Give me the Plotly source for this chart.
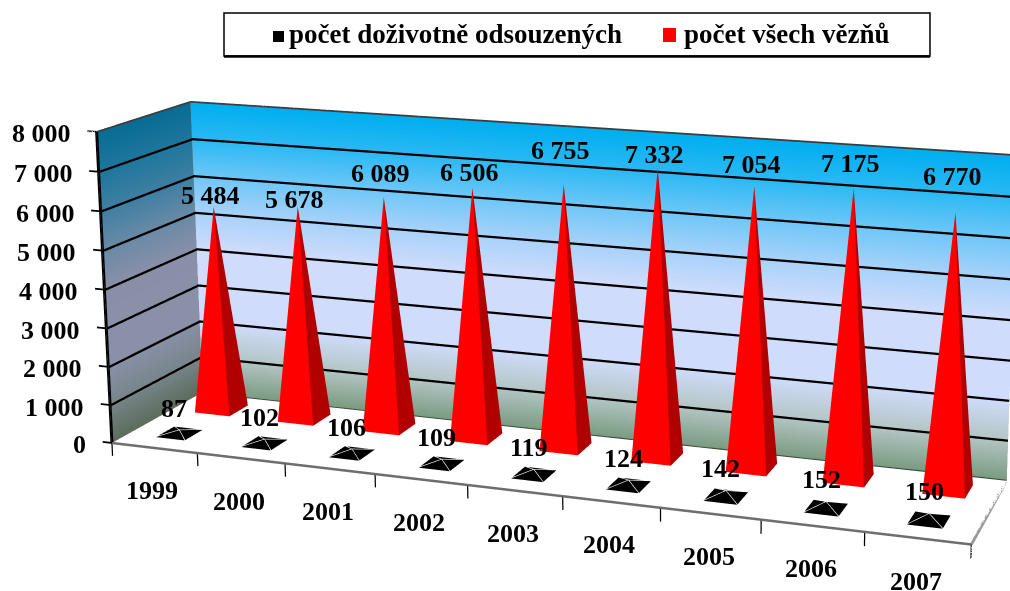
import numpy as np
import plotly.graph_objects as go

years = ["1999","2000","2001","2002","2003","2004","2005","2006","2007"]
life_sentenced = [87,102,106,109,119,124,142,152,150]
all_prisoners = [5484,5678,6089,6506,6755,7332,7054,7175,6770]
z_ticks = [0,1000,2000,3000,4000,5000,6000,7000,8000]
# label placement, kept apart from the values: pixels above the apex of each red pyramid
red_label_lift = [11,7,24,15,34,14,22,25,36]

def fmt(v):
    return f"{v:,}".replace(",", " ")

FONT = "Liberation Serif"
# Plotly's perspective is fixed at 45 degrees: a larger canvas, cropped to the window, gives the narrower view.
FW, FH, L, T = 3190, 1866, -912, -778
def pxx(x): return (x - L) / FW
def pxy(y): return 1 - (y - T) / FH

# camera fitted to the box, in coordinates centred on x 0..9, y 0..1, z 0..8000
box = np.array([1, 0.2042, 0.3646])
eye0 = np.array([0.8923, -2.2525, 0.6566])
cen0 = np.array([0.1318, 0.0776, 0.1631])
up0 = np.array([-0.0459, 0.1302, 1.0])
rx, ry, rz = [-0.12, 9.0], [-0.02, 1.0], [-360.0, 8000.0]
base = [(0, 9), (0, 1), (0, 8000)]
aspect, delta = [], []
for i, r in enumerate((rx, ry, rz)):
    b = base[i]; sp = b[1] - b[0]
    aspect.append(box[i] * (r[1] - r[0]) / sp)
    delta.append(((r[0] + r[1]) / 2 - (b[0] + b[1]) / 2) / sp * box[i])
delta = np.array(delta)
eye, cen = eye0 - delta, cen0 - delta

fig = go.Figure()

def wall_scale(stops):
    return [[k / 8, c] for k, c in enumerate(stops)]
back_cols = ["#7b9c82","#b4c6c6","#d0dcfc","#d0dcfc","#d0dcfc","#a9d2fa","#6fc7f7","#2bb9f4","#00aeef"]
left_cols = ["#5d6c5c","#78858a","#8990a8","#8a90a8","#8a8fa8","#6a8aa6","#3f7fa2","#1f769c","#086c94"]
zz = np.array(z_ticks, float)
common = dict(showscale=False, cmin=0, cmax=8000, hoverinfo="skip",
              lighting=dict(ambient=1, diffuse=0, specular=0, roughness=1, fresnel=0),
              contours=dict(x=dict(highlight=False), y=dict(highlight=False), z=dict(highlight=False)))
fig.add_surface(x=[[0, 9]] * 9, y=[[1, 1]] * 9, z=[[v, v] for v in zz],
                surfacecolor=[[v, v] for v in zz], colorscale=wall_scale(back_cols), **common)
fig.add_surface(x=[[0, 0]] * 9, y=[[0, 1]] * 9, z=[[v, v] for v in zz],
                surfacecolor=[[v, v] for v in zz], colorscale=wall_scale(left_cols), **common)

def lines(segs, color, width):
    xs, ys, zs = [], [], []
    for a, b in segs:
        xs += [a[0], b[0], None]; ys += [a[1], b[1], None]; zs += [a[2], b[2], None]
    fig.add_scatter3d(x=xs, y=ys, z=zs, mode="lines", line=dict(color=color, width=width),
                      hoverinfo="skip", showlegend=False)

lines([((0, .995, v), (9, .995, v)) for v in z_ticks[1:-1]] +
      [((.012, 0, v), (.012, 1, v)) for v in z_ticks[1:-1]], "#000000", 4.5)
lines([((0, 1, 8000), (9, 1, 8000)), ((0, 0, 8000), (0, 1, 8000))], "#3c3c3c", 3.5)
lines([((0, 0, 0), (0, 0, 8000))], "#000000", 6)
lines([((0, 1, 0), (0, 1, 8000))], "#8c8c8c", 3.5)
lines([((0, 0, 0), (9, 0, 0))], "#6e6e6e", 5)
lines([((9, 0, 0), (9, 1, 0))], "#9a9a9a", 6)
lines([((0, 1, 0), (9, 1, 0))], "#3a4a3a", 3.5)
lines([((0, 0, v), (-.11, 0, v)) for v in z_ticks], "#000000", 3.5)
lines([((i, 0, 0), (i, 0, -340)) for i in range(10)], "#000000", 2.5)

def pyramids(values, yc, wx, wy, front, side, streaks=False):
    X, Y, Z, I, J, K, FC, segs = [], [], [], [], [], [], [], []
    for i, v in enumerate(values):
        c = i + .5
        n = len(X)
        X += [c-wx/2, c+wx/2, c+wx/2, c-wx/2, c]
        Y += [yc-wy/2, yc-wy/2, yc+wy/2, yc+wy/2, yc]
        Z += [0, 0, 0, 0, v]
        for a, b, col in ((0, 1, front), (1, 2, side), (2, 3, side), (3, 0, front)):
            I.append(n+a); J.append(n+b); K.append(n+4); FC.append(col)
        if streaks:
            segs += [((X[n+q], Y[n+q], 0), (c, yc, v)) for q in range(4)]
    fig.add_mesh3d(x=X, y=Y, z=Z, i=I, j=J, k=K, facecolor=FC, flatshading=True, hoverinfo="skip",
                   lighting=dict(ambient=1, diffuse=0, specular=0, roughness=1, fresnel=0))
    if segs:
        lines(segs, "#ffffff", 2.5)

pyramids(life_sentenced, .27, .34, .20, "#000000", "#000000", streaks=True)
pyramids(all_prisoners, .75, .42, .22, "#ff0000", "#b00000")

ann = []
def a(x, y, z, text, xa="center", xs=0, ys=0):
    ann.append(dict(x=x, y=y, z=z, text=text, showarrow=False, xanchor=xa, yanchor="middle", xshift=xs, yshift=ys,
                    font=dict(family=FONT, size=26, color="#000000", weight=700)))
for v in z_ticks:
    a(0, 0, v, fmt(v), "right", -24, -2)
for i, y in enumerate(years):
    a(i + .5, 0, 0, y, "center", -2, -43)
for i, v in enumerate(life_sentenced):
    a(i + .5, .27, v, fmt(v), "center", -5, 22)
for i, v in enumerate(all_prisoners):
    a(i + .5, .75, v, fmt(v), "center", -3, red_label_lift[i])

shapes = [dict(type="rect", xref="paper", yref="paper", x0=pxx(224), x1=pxx(930), y0=pxy(56), y1=pxy(13),
               line=dict(color="#000000", width=1.5), fillcolor="#ffffff"),
          dict(type="line", xref="paper", yref="paper", x0=pxx(224), x1=pxx(930), y0=pxy(56.5), y1=pxy(56.5),
               line=dict(color="#000000", width=2.5)),
          dict(type="rect", xref="paper", yref="paper", x0=pxx(273), x1=pxx(284), y0=pxy(42), y1=pxy(31),
               line=dict(width=0), fillcolor="#000000"),
          dict(type="rect", xref="paper", yref="paper", x0=pxx(663), x1=pxx(676), y0=pxy(42), y1=pxy(28),
               line=dict(width=0), fillcolor="#ff0000")]
legend_ann = [dict(xref="paper", yref="paper", x=pxx(x), y=pxy(34), text=t, showarrow=False, xanchor="left", yanchor="middle",
                   font=dict(family=FONT, size=27, color="#000000", weight=700))
              for x, t in ((287, "počet doživotně odsouzených"), (682, "počet všech vězňů"))]

hidden = dict(visible=False, showspikes=False, autorange=False)
fig.update_layout(
    width=FW, height=FH, margin=dict(l=0, r=0, t=0, b=0), paper_bgcolor="#ffffff", showlegend=False,
    shapes=shapes, annotations=legend_ann,
    scene=dict(domain=dict(x=[0, 1], y=[0, 1]), bgcolor="rgba(0,0,0,0)",
               xaxis=dict(range=rx, **hidden), yaxis=dict(range=ry, **hidden), zaxis=dict(range=rz, **hidden),
               aspectmode="manual", aspectratio=dict(x=aspect[0], y=aspect[1], z=aspect[2]),
               camera=dict(eye=dict(x=eye[0], y=eye[1], z=eye[2]), center=dict(x=cen[0], y=cen[1], z=cen[2]),
                           up=dict(x=up0[0], y=up0[1], z=up0[2]), projection=dict(type="perspective")),
               annotations=ann))

post = ("var g=document.getElementById('{plot_id}');g.style.position='absolute';"
        f"g.style.left='{L}px';g.style.top='{T}px';"
        "document.documentElement.style.overflow='hidden';document.body.style.overflow='hidden';document.body.style.margin='0';")
fig.write_html("out.html", config=dict(displayModeBar=False), default_width=f"{FW}px", default_height=f"{FH}px", post_script=post)
